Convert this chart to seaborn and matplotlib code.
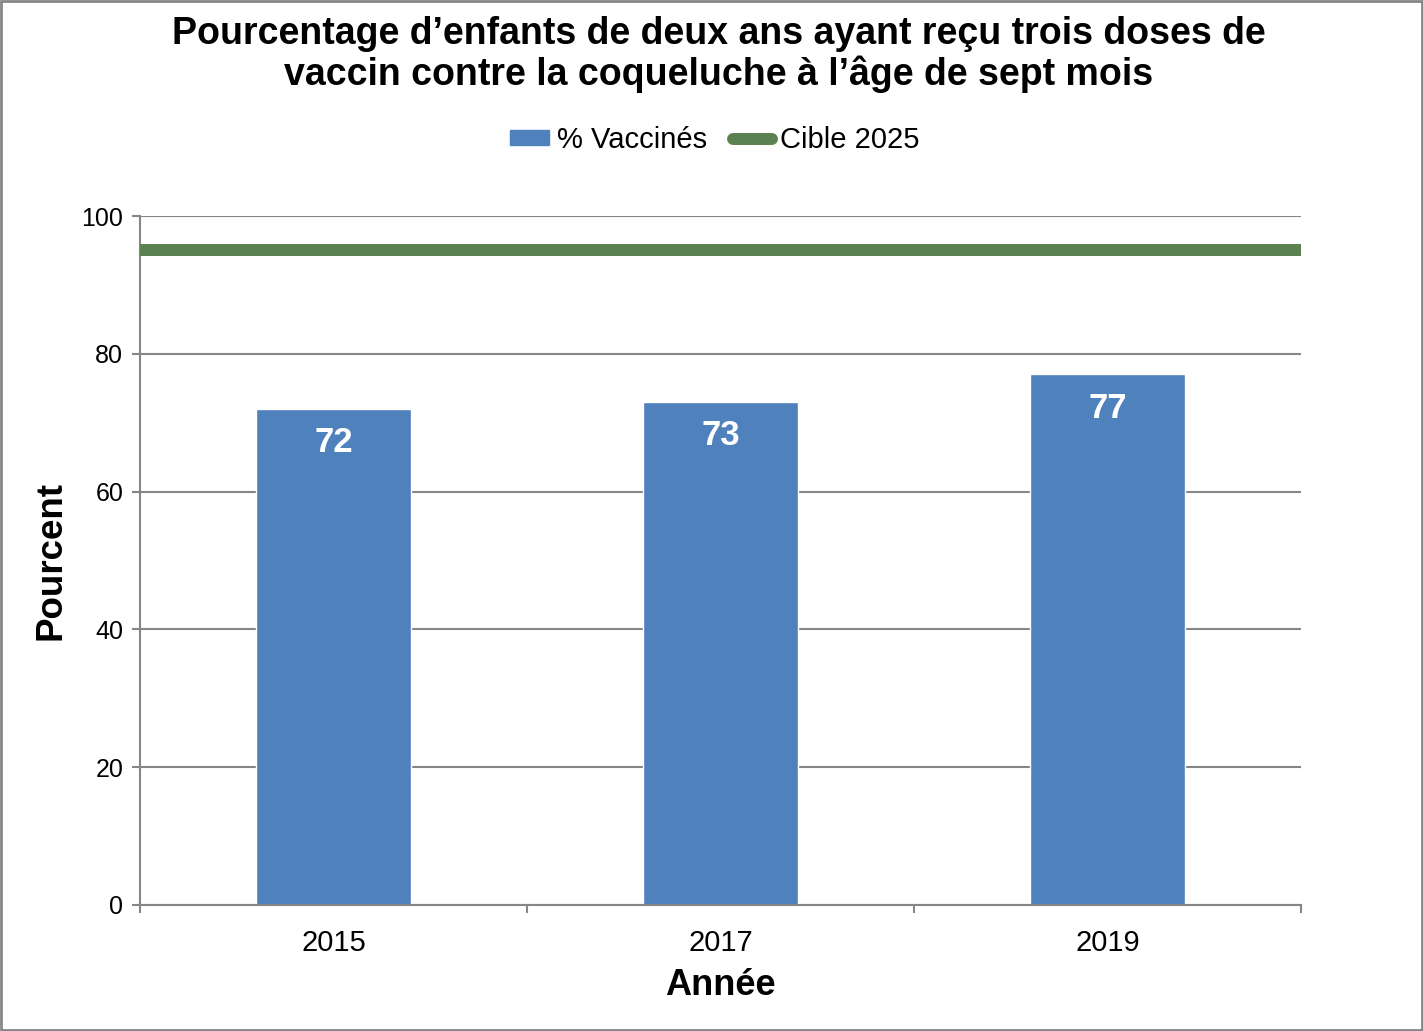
import matplotlib
matplotlib.use("Agg")
import matplotlib.pyplot as plt
import matplotlib.patches as mpatches
from matplotlib.lines import Line2D
import numpy as np
import pandas as pd
import seaborn as sns

# Data
years = ["2015", "2017", "2019"]
vaccinated = [72, 73, 77]
target = 95
title = "Pourcentage d\u2019enfants de deux ans ayant reçu trois doses de\nvaccin contre la coqueluche à l\u2019âge de sept mois"

bar_color = "#4F81BD"
line_color = "#5B8150"
grid_color = "#868686"

sns.set_theme(style="white")
plt.rcParams["font.family"] = ["Liberation Sans", "DejaVu Sans"]
plt.rcParams["text.color"] = "black"
plt.rcParams["axes.labelcolor"] = "black"
plt.rcParams["xtick.labelcolor"] = "black"
plt.rcParams["ytick.labelcolor"] = "black"

df = pd.DataFrame({"year": years, "pct": vaccinated})

fig = plt.figure(figsize=(14.23, 10.31), dpi=100)
ax = fig.add_axes([140 / 1423, 126 / 1031, 1161 / 1423, 689 / 1031])

sns.barplot(data=df, x="year", y="pct", color=bar_color, width=0.4,
            saturation=1, ax=ax, zorder=2)
ax.axhline(target, color=line_color, linewidth=8.6, zorder=3)

for i, v in enumerate(vaccinated):
    ax.text(i, v - 2.5, f"{v}", ha="center", va="top", color="white",
            fontsize=25, fontweight="bold", zorder=4)

ax.set_xlim(-0.5, 2.5)
ax.set_ylim(0, 100)
ax.set_yticks(np.arange(0, 101, 20))
ax.yaxis.grid(True, color=grid_color, linewidth=1.5, zorder=0)
ax.set_axisbelow(True)

for s in ["top", "right"]:
    ax.spines[s].set_visible(False)
for s in ["left", "bottom"]:
    ax.spines[s].set_color(grid_color)
    ax.spines[s].set_linewidth(1.5)

ax.tick_params(axis="y", which="major", length=6, width=1.5, color=grid_color,
               labelsize=18, pad=6, left=True)
ax.tick_params(axis="x", which="major", length=0, labelsize=21, pad=17)
ax.set_xticks([-0.5, 0.5, 1.5, 2.5], minor=True)
ax.tick_params(axis="x", which="minor", length=6, width=1.5, color=grid_color,
               bottom=True, direction="out")

ax.set_xlabel("Année", fontsize=26, fontweight="bold", labelpad=8)
ax.set_ylabel("Pourcent", fontsize=26.5, fontweight="bold", labelpad=9)

fig.text(0.5 + 7 / 1423, 0.984, title, ha="center", va="top", fontsize=27,
         fontweight="bold", linespacing=1.1)

handles = [
    mpatches.Patch(color=bar_color, label="% Vaccinés"),
    Line2D([0], [0], color=line_color, linewidth=8.6, solid_capstyle="round",
           label="Cible 2025"),
]
fig.legend(handles=handles, loc="center",
           bbox_to_anchor=(0.5 + 3 / 1423, 1 - 140 / 1031),
           ncol=2, frameon=False, fontsize=21, handlelength=1.35,
           handleheight=0.45, handletextpad=0.25, columnspacing=0.9)

fig.patches.append(mpatches.Rectangle((0.0005, 0.0005), 0.999, 0.999,
                                      transform=fig.transFigure, fill=False,
                                      edgecolor=grid_color, linewidth=2))

fig.savefig("out.png", dpi=100)
